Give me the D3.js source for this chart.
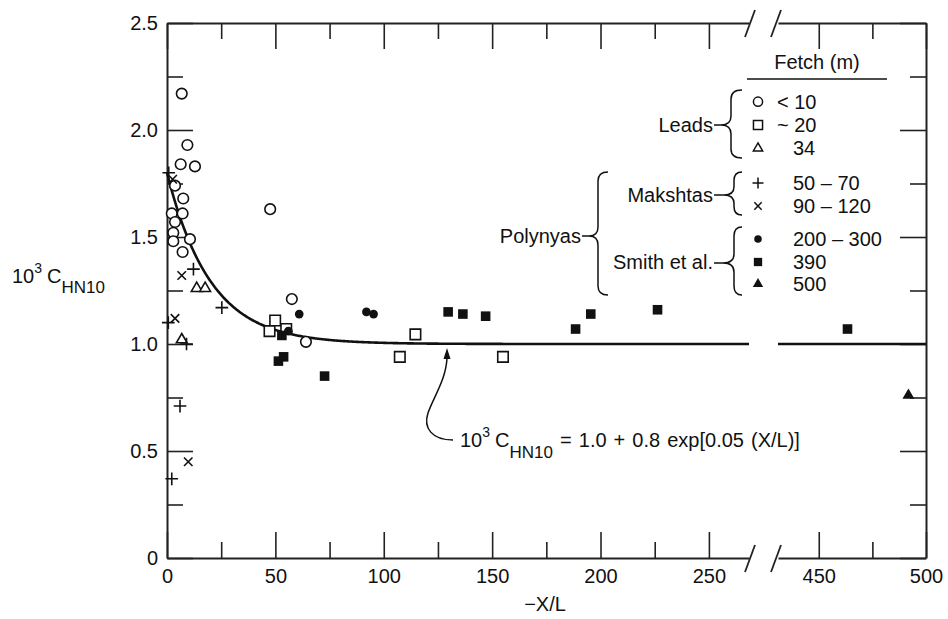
<!DOCTYPE html>
<html>
<head>
<meta charset="utf-8">
<script src="https://cdn.jsdelivr.net/npm/d3@7"></script>
<style>
body { margin: 0; background: #fff; }
svg text { font-family: "Liberation Sans", Arial, Helvetica, sans-serif; fill: #111; }
</style>
</head>
<body>
<svg id="chart" width="948" height="619"></svg>
<script>
'use strict';

// data: [ -X/L , 10^3 C_HN10 ]
// leads
var leadsUnder10 = [[6.8,2.17],[9.4,1.93],[6.3,1.84],[12.9,1.83],[3.7,1.74],[7.5,1.68],[2.2,1.61],[7.2,1.61],
	[3.7,1.57],[2.9,1.52],[2.9,1.48],[10.6,1.49],[7.2,1.43],[47.6,1.63],[57.6,1.21],[64.1,1.01]];
var leadsAbout20 = [[49.9,1.11],[47.3,1.06],[55,1.07],[114.6,1.045],[107.4,0.94],[155,0.94]];
var leads34 = [[13.7,1.26],[17.6,1.26],[6.8,1.02]];
// polynyas, Makshtas
var makshtas50 = [[0.8,1.80],[12.2,1.35],[25.3,1.17],[0.6,1.10],[9,1.00],[6.0,0.71],[2.2,0.37]];
var makshtas90 = [[2.6,1.77],[6.8,1.32],[3.7,1.12],[9.8,0.45]];
// polynyas, Smith et al.
var smith200 = [[61,1.14],[56,1.06],[92,1.15],[95.3,1.14]];
var smith390 = [[53,1.04],[53.8,0.94],[51.4,0.92],[72.7,0.85],[129.7,1.15],[136.5,1.14],[147,1.13],
	[188.5,1.07],[195.5,1.14],[226.3,1.16],[463.4,1.07]];
var smith500 = [[491.8,0.76]];

// fitted curve 10^3 C = 1.0 + 0.8 exp[0.05 (X/L)]
var fitBase = 1.0, fitAmp = 0.8, fitRate = 0.05;

var xTicksLeft = [0,25,50,75,100,125,150,175,200,225,250];
var xTicksRight = [450,475,500];
var yTicks = [0,0.25,0.5,0.75,1.0,1.25,1.5,1.75,2.0,2.25,2.5];

var svg = d3.select("#chart");

var xLeft = d3.scaleLinear().domain([0, 268.5]).range([167, 749]);
var xRight = d3.scaleLinear().domain([431, 500]).range([778, 926]);
var y = d3.scaleLinear().domain([0, 2.5]).range([558, 23]);
function xPos(v){ return v < 350 ? xLeft(v) : xRight(v); }

function isMajorX(d){ return d % 50 === 0; }
function isMajorY(d){ return Math.abs(d*2 - Math.round(d*2)) < 1e-9; }

function styleAxis(g, attr, sign, major){
	g.selectAll("path.domain").attr("stroke", "#222").attr("stroke-width", 2);
	g.selectAll(".tick line").attr("stroke", "#222").attr("stroke-width", 1.6)
		.attr(attr, function(d){ return sign * (major(d) ? 26 : 16); });
	g.selectAll(".tick text").attr("font-size", 20).attr("font-family", null).attr("fill", "#111");
	g.attr("font-family", null);
}

// bottom
var gbL = svg.append("g").attr("transform", "translate(0,558)")
	.call(d3.axisBottom(xLeft).tickValues(xTicksLeft).tickSizeInner(-26).tickSizeOuter(0).tickPadding(11)
		.tickFormat(function(d){ return isMajorX(d) ? d : ""; }));
styleAxis(gbL, "y2", -1, isMajorX);
var gbR = svg.append("g").attr("transform", "translate(0,558)")
	.call(d3.axisBottom(xRight).tickValues(xTicksRight).tickSizeInner(-26).tickSizeOuter(0).tickPadding(11)
		.tickFormat(function(d){ return isMajorX(d) ? d : ""; }));
styleAxis(gbR, "y2", -1, isMajorX);

// top
var gtL = svg.append("g").attr("transform", "translate(0,23)")
	.call(d3.axisTop(xLeft).tickValues(xTicksLeft).tickSizeInner(-26).tickSizeOuter(0).tickFormat(""));
styleAxis(gtL, "y2", 1, isMajorX);
var gtR = svg.append("g").attr("transform", "translate(0,23)")
	.call(d3.axisTop(xRight).tickValues(xTicksRight).tickSizeInner(-26).tickSizeOuter(0).tickFormat(""));
styleAxis(gtR, "y2", 1, isMajorX);

// left / right
var gl = svg.append("g").attr("transform", "translate(167,0)")
	.call(d3.axisLeft(y).tickValues(yTicks).tickSizeInner(-26).tickSizeOuter(0).tickPadding(9)
		.tickFormat(function(d){ return !isMajorY(d) ? "" : (d === 0 ? "0" : d3.format(".1f")(d)); }));
styleAxis(gl, "x2", 1, isMajorY);
var gr = svg.append("g").attr("transform", "translate(926,0)")
	.call(d3.axisRight(y).tickValues(yTicks).tickSizeInner(-26).tickSizeOuter(0).tickFormat(""));
styleAxis(gr, "x2", -1, isMajorY);

// axis break marks
[23, 558].forEach(function(ay){
	[750, 776].forEach(function(cx){
		svg.append("line").attr("x1", cx-5).attr("y1", ay+14).attr("x2", cx+5).attr("y2", ay-13)
			.attr("stroke", "#222").attr("stroke-width", 1.8);
	});
});

// fitted curve
var line = d3.line();
var curveLeft = d3.range(0, 268.6, 0.5).map(function(v){
	return [xLeft(v), y(fitBase + fitAmp*Math.exp(-fitRate*v))];
});
var curveRight = [431, 500].map(function(v){
	return [xRight(v), y(fitBase + fitAmp*Math.exp(-fitRate*v))];
});
[curveLeft, curveRight].forEach(function(pts){
	svg.append("path").attr("d", line(pts)).attr("fill", "none")
		.attr("stroke", "#111").attr("stroke-width", 2.6);
});

// marker types
var plusType = { draw: function(ctx, size){ var r = Math.sqrt(size)/2;
	ctx.moveTo(-r,0); ctx.lineTo(r,0); ctx.moveTo(0,-r); ctx.lineTo(0,r); } };
var timesType = { draw: function(ctx, size){ var r = Math.sqrt(size)/2;
	ctx.moveTo(-r,-r); ctx.lineTo(r,r); ctx.moveTo(-r,r); ctx.lineTo(r,-r); } };

var series = [
	{ data: leadsUnder10, type: d3.symbolCircle, size: 88, fill: "#fff", stroke: true, label: "< 10", lx: 777 },
	{ data: leadsAbout20, type: d3.symbolSquare, size: 110, fill: "#fff", stroke: true, label: "~ 20", lx: 777 },
	{ data: leads34, type: d3.symbolTriangle, size: 50, fill: "#fff", stroke: true, label: "34", lx: 793 },
	{ data: makshtas50, type: plusType, size: 160, fill: "none", stroke: true, label: "50 \u2013 70", lx: 793 },
	{ data: makshtas90, type: timesType, size: 72, fill: "none", stroke: true, label: "90 \u2013 120", lx: 793 },
	{ data: smith200, type: d3.symbolCircle, size: 60, fill: "#111", stroke: false, label: "200 \u2013 300", lx: 793 },
	{ data: smith390, type: d3.symbolSquare, size: 92, fill: "#111", stroke: false, label: "390", lx: 793 },
	{ data: smith500, type: d3.symbolTriangle, size: 62, fill: "#111", stroke: false, label: "500", lx: 793 }
];

series.forEach(function(s){
	svg.append("g").selectAll("path").data(s.data).enter().append("path")
		.attr("transform", function(d){ return "translate(" + xPos(d[0]) + "," + y(d[1]) + ")"; })
		.attr("d", d3.symbol().type(s.type).size(s.size))
		.attr("fill", s.fill)
		.attr("stroke", s.stroke ? "#111" : "none")
		.attr("stroke-width", 1.6);
});

// legend
var legendRows = [101.7, 125, 148.3, 183, 206, 239, 262, 284];
svg.append("text").attr("x", 817).attr("y", 69).attr("text-anchor", "middle").attr("font-size", 20).text("Fetch (m)");
svg.append("line").attr("x1", 747).attr("x2", 887).attr("y1", 79).attr("y2", 79).attr("stroke", "#111").attr("stroke-width", 1.5);
series.forEach(function(s, i){
	svg.append("path").attr("transform", "translate(758," + legendRows[i] + ")")
		.attr("d", d3.symbol().type(s.type).size(s.size*0.75))
		.attr("fill", s.fill).attr("stroke", s.stroke ? "#111" : "none").attr("stroke-width", 1.5);
	svg.append("text").attr("x", s.lx).attr("y", legendRows[i] + 7).attr("font-size", 20).text(s.label);
});

function brace(xr, xv, xt, y0, y1, ym, dashTo){
	var r = Math.min(9, (y1 - y0)/5);
	var p = "M" + xr + "," + y0 + " Q" + xv + "," + y0 + " " + xv + "," + (y0 + r) +
		" L" + xv + "," + (ym - r) + " Q" + xv + "," + ym + " " + xt + "," + ym +
		" Q" + xv + "," + ym + " " + xv + "," + (ym + r) +
		" L" + xv + "," + (y1 - r) + " Q" + xv + "," + y1 + " " + xr + "," + y1 +
		" M" + xt + "," + ym + " L" + dashTo + "," + ym;
	svg.append("path").attr("d", p).attr("fill", "none").attr("stroke", "#111").attr("stroke-width", 1.5);
}
brace(742, 731, 721, 90, 158, 125, 714);
brace(742, 734, 724, 172, 215, 195, 714);
brace(742, 734, 723, 227, 295, 263, 714);
brace(608, 598, 589, 172, 295, 236, 582);

var groupLabels = [["Leads", 713, 132], ["Makshtas", 713, 202], ["Smith et al.", 713, 269], ["Polynyas", 581, 243]];
groupLabels.forEach(function(t){
	svg.append("text").attr("x", t[1]).attr("y", t[2]).attr("text-anchor", "end").attr("font-size", 20).text(t[0]);
});

// axis titles
var yl = svg.append("text").attr("x", 12).attr("y", 283).attr("font-size", 20);
yl.append("tspan").text("10");
yl.append("tspan").attr("dy", -10).attr("font-size", 14).text("3");
yl.append("tspan").attr("dy", 10).attr("dx", 5).text("C");
yl.append("tspan").attr("dy", 10).attr("font-size", 17).text("HN10");

svg.append("text").attr("x", 545).attr("y", 611).attr("text-anchor", "middle").attr("font-size", 20).text("\u2212X/L");

// formula annotation
var ft = svg.append("text").attr("x", 460).attr("y", 447).attr("font-size", 20).attr("word-spacing", 1.5);
ft.append("tspan").text("10");
ft.append("tspan").attr("dy", -10).attr("font-size", 14).text("3");
ft.append("tspan").attr("dy", 10).attr("dx", 5).text("C");
ft.append("tspan").attr("dy", 11).attr("font-size", 17).text("HN10");
ft.append("tspan").attr("dy", -11).text(" = 1.0 + 0.8 exp[0.05 (X/L)]");

svg.append("path").attr("d", "M453,440 C432,440 423,428 428,413 C433,398 446,380 447,358")
	.attr("fill", "none").attr("stroke", "#111").attr("stroke-width", 1.5);
svg.append("path").attr("d", "M447,348 L443.5,359 L450.5,359 Z").attr("fill", "#111");
</script>
</body>
</html>
